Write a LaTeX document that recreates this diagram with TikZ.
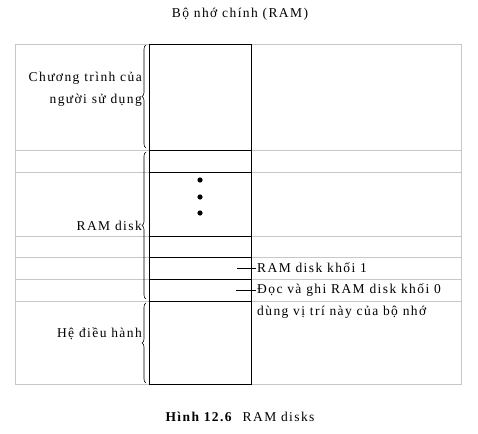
\documentclass[tikz,border=0pt]{standalone}
\usepackage{fontspec}
\setmainfont{Liberation Serif}[LetterSpace=10.5]
\usetikzlibrary{positioning, decorations.pathreplacing, calc}

\begin{document}
\begin{tikzpicture}[
  x=1pt, y=-1pt,
  grid/.style={draw=black!22, line width=0.7pt},
  mem/.style={draw, line width=0.8pt},
  brc/.style={decorate, decoration={brace, amplitude=4pt}, line width=0.6pt},
  lbl/.style={font=\fontsize{13.5}{22}\selectfont, inner sep=1pt},
  tick/.style={line width=0.6pt}
]
  \useasboundingbox (0,0) rectangle (478,433);

  % outer frame and row lines
  \draw[grid] (15,44) rectangle (461,384);
  \foreach \y in {150,172,236,257,279,301}
    \draw[grid] (15,\y) -- (461,\y);

  % memory column
  \node[mem, fill=white, minimum width=102pt, minimum height=340pt, inner sep=0pt] (ram) at (200,214) {};
  \foreach \y in {150,172,236,257,279,301}
    \draw[mem] (ram.west |- 0,\y) -- (ram.east |- 0,\y);
  \foreach \y in {180,197,213}
    \fill (200,\y) circle (2.6pt);

  % braces
  \draw[brc] (146,148) -- (146,45);
  \draw[brc] (146,299) -- (146,152);
  \draw[brc] (146,383) -- (146,303);

  % labels
  \node[lbl] (title) at (240,14) {Bộ nhớ chính (RAM)};
  \node[lbl, align=right, anchor=east] (user) at (143,89) {Chương trình của\\người sử dụng};
  \node[lbl, anchor=east] (disk) at (143,226) {RAM disk};
  \node[lbl, anchor=east] (os) at (143,334) {Hệ điều hành};

  \node[lbl, anchor=west] (blk1) at (256,268) {RAM disk khối 1};
  \node[lbl, anchor=west] (blk0) at (256,290) {Đọc và ghi RAM disk khối 0};
  \node[lbl, anchor=west] (note) at (256,312) {dùng vị trí này của bộ nhớ};
  \coordinate (t1) at (237,268);
  \coordinate (t0) at (236,290);
  \draw[tick] (t1) -- (blk1.west);
  \draw[tick] (t0) -- (blk0.west);

  \node[lbl] (cap) at (240,417) {\textbf{Hình 12.6}\ \ RAM disks};
\end{tikzpicture}
\end{document}
